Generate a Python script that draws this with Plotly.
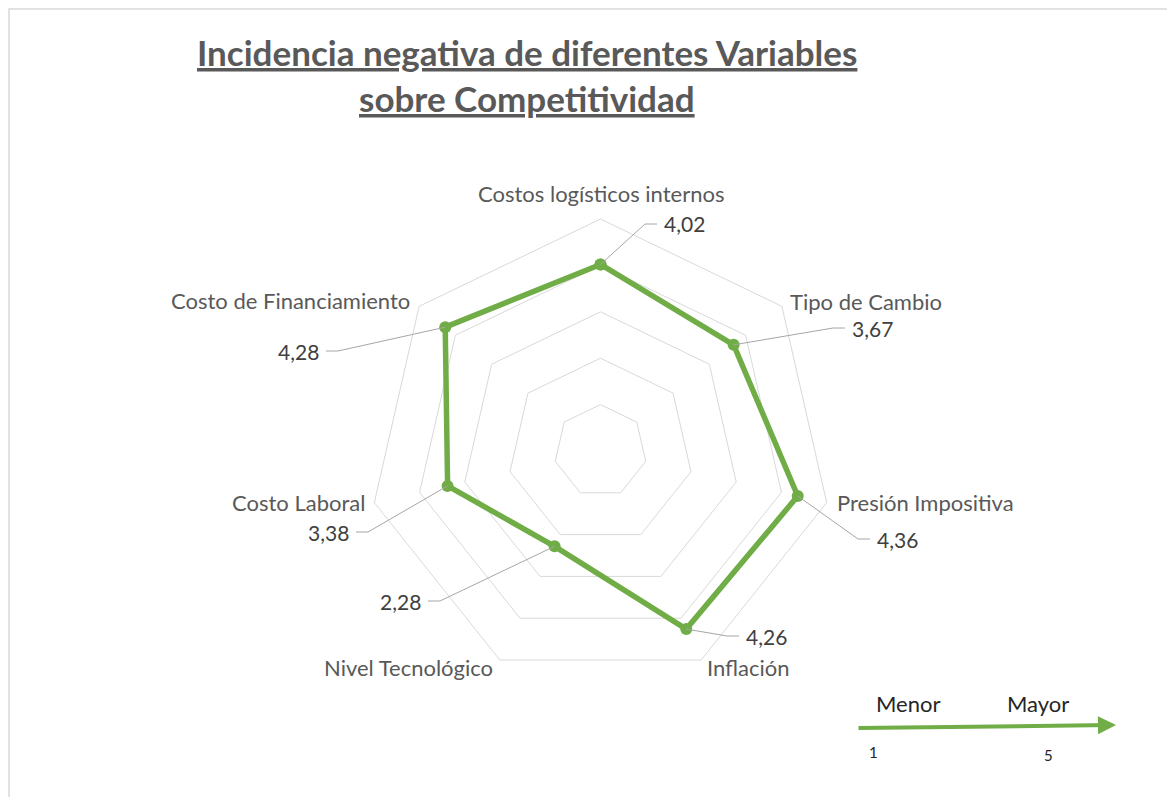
import math
import plotly.graph_objects as go

# datos de la encuesta (escala 1 a 5)
categorias = ['Costos logísticos internos', 'Tipo de Cambio', 'Presión Impositiva', 'Inflación',
              'Nivel Tecnológico', 'Costo Laboral', 'Costo de Financiamiento']
valores = [4.02, 3.67, 4.36, 4.26, 2.28, 3.38, 4.28]
etiquetas = ['4,02', '3,67', '4,36', '4,26', '2,28', '3,38', '4,28']

titulo = ['Incidencia negativa de diferentes Variables', 'sobre Competitividad']

W, H = 1175, 797
OFF = 8                       # margen del body de la pagina
cx, cy, R = 600.5, 451, 232   # centro y radio del radar en pixeles
RMAX = 5
verde = '#70AD47'

# codo de la linea guia y lado del texto de cada etiqueta
guias = [(645, 224, 1), (833, 328, 1), (858, 539, 1), (727, 636, 1),
         (440, 601, -1), (368, 532, -1), (338, 351, -1)]
# desplazamiento de los nombres respecto al vertice exterior
nombres_pos = [(0, -26, 'center'), (6, -5, 'left'), (8, 0, 'left'), (4, 7, 'left'),
               (-5, 7, 'right'), (-7, 0, 'right'), (-7, -6, 'right')]


def px(x, y):
    return (x - OFF) / W, 1 - (y - OFF) / H


def punto(i, v):
    ang = math.radians(90 - i * 360 / len(categorias))
    return cx + v / RMAX * R * math.cos(ang), cy - v / RMAX * R * math.sin(ang)


fig = go.Figure()
fig.add_trace(go.Scatterpolar(
    r=valores + valores[:1], theta=categorias + categorias[:1],
    mode='lines+markers', line=dict(color=verde, width=5.5),
    marker=dict(color=verde, size=12), showlegend=False, hoverinfo='skip'))

shapes = []
annotations = []
for i, (v, txt) in enumerate(zip(valores, etiquetas)):
    x0, y0 = punto(i, v)
    ex, ey, lado = guias[i]
    x1, y1 = ex + 12 * lado, ey
    a, b, c = px(x0, y0), px(ex, ey), px(x1, y1)
    shapes.append(dict(type='path', xref='paper', yref='paper',
                       path=f'M {a[0]} {a[1]} L {b[0]} {b[1]} L {c[0]} {c[1]}',
                       line=dict(color='#a6a6a6', width=1)))
    tx, ty = px(x1 + 5 * lado, y1)
    annotations.append(dict(text=txt, x=tx, y=ty, xref='paper', yref='paper',
                            xanchor='left' if lado > 0 else 'right', yanchor='middle',
                            showarrow=False, font=dict(family='Lato', size=21, color='#404040')))

# nombres de las variables junto a cada vertice
for i, nombre in enumerate(categorias):
    vx, vy = punto(i, RMAX)
    dx, dy, anc = nombres_pos[i]
    nx, ny = px(vx + dx, vy + dy)
    annotations.append(dict(text=nombre, x=nx, y=ny, xref='paper', yref='paper',
                            xanchor=anc, yanchor='middle', showarrow=False,
                            font=dict(family='Lato', size=22, color='#595959')))

# titulo subrayado en dos lineas
for t, y in zip(titulo, [52, 98]):
    tx, ty = px(527, y)
    annotations.append(dict(text=f'<b><u>{t}</u></b>', x=tx, y=ty, xref='paper', yref='paper',
                            xanchor='center', yanchor='middle', showarrow=False,
                            font=dict(family='Lato', size=35, color='#595959')))

# borde del area del grafico (lo mas cerca posible del borde de la pagina)
shapes.append(dict(type='rect', xref='paper', yref='paper', x0=1 / W, x1=1.02, y0=-0.02, y1=1 - 1 / H,
                   line=dict(color='#d9d9d9', width=1.5), fillcolor='rgba(0,0,0,0)'))

# flecha de escala Menor -> Mayor
ax_, ay_ = px(1116, 725)
annotations.append(dict(x=ax_, y=ay_, xref='paper', yref='paper', text='',
                        showarrow=True, ax=-259, ay=3, arrowhead=2, arrowsize=0.9,
                        arrowwidth=4, arrowcolor=verde))
for t, x, y, s in [('Menor', 908, 703, 22), ('Mayor', 1038, 703, 22), ('1', 873, 752, 15), ('5', 1048, 755, 15)]:
    tx, ty = px(x, y)
    annotations.append(dict(text=t, x=tx, y=ty, xref='paper', yref='paper',
                            xanchor='center', yanchor='middle', showarrow=False,
                            font=dict(family='Lato', size=s, color='#262626')))

d0x, d1y = px(cx - R, cy - R)
d1x, d0y = px(cx + R, cy + R)
fig.update_layout(
    width=W, height=H,
    margin=dict(l=0, r=0, t=0, b=0),
    paper_bgcolor='white',
    polar=dict(
        domain=dict(x=[d0x, d1x], y=[d0y, d1y]),
        bgcolor='white',
        gridshape='linear',
        radialaxis=dict(range=[0, RMAX], tickvals=[1, 2, 3, 4, 5], showticklabels=False,
                        ticks='', showline=False, gridcolor='#d9d9d9', gridwidth=1),
        angularaxis=dict(direction='clockwise', rotation=90, showgrid=False, ticks='',
                         showticklabels=False, showline=True, linecolor='#d9d9d9', linewidth=1),
    ),
    shapes=shapes,
    annotations=annotations,
)

fig.write_html("out.html")
